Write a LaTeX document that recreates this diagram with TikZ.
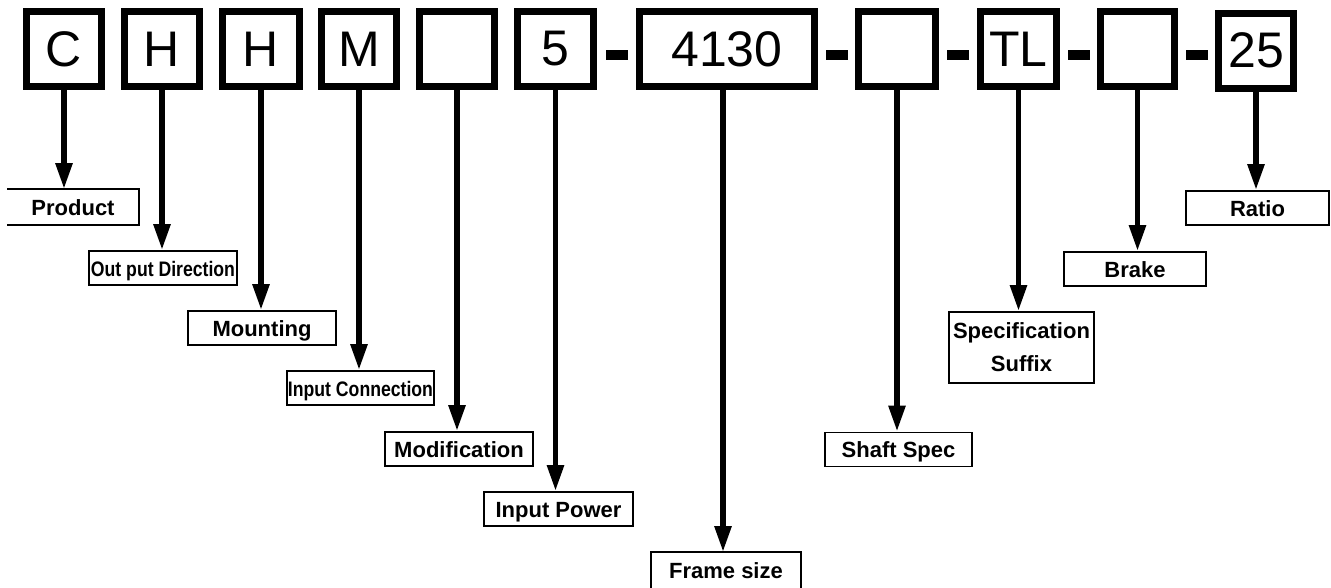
\documentclass[tikz,border=0pt]{standalone}
\usepackage{fontspec}
\setmainfont{Liberation Sans}
\newfontfamily\narrowfont{Liberation Sans}[FakeStretch=0.84]
\usetikzlibrary{arrows.meta}
\begin{document}
\begin{tikzpicture}[x=1pt,y=-1pt,
 codebox/.style={draw, line width=7pt, minimum width=75pt, minimum height=75pt, inner sep=0pt, font=\fontsize{50}{50}\selectfont},
 dashbar/.style={fill=black, minimum width=22pt, minimum height=10pt, inner sep=0pt},
 lab/.style={draw, line width=1.8pt, inner sep=0pt, font=\bfseries\fontsize{22}{33}\selectfont, align=center},
 onel/.style={lab, minimum height=34pt, text height=16pt, text depth=0pt},
 narrowl/.style={onel, font=\narrowfont\bfseries\fontsize{21}{25}\selectfont},
 arr/.style={line width=5.5pt, -{Triangle[width=16pt,length=26pt]}}]
\useasboundingbox (0,0) rectangle (1331,587);
% code boxes
\node[codebox] (c)  at (64,49) {C};
\node[codebox] (h1) at (162,49) {H};
\node[codebox, minimum width=77pt] (h2) at (261,49) {H};
\node[codebox] (m)  at (359,49) {M};
\node[codebox] (b1) at (457,49) {};
\node[codebox, minimum width=76pt] (p5) at (555.5,49) {5};
\node[codebox, minimum width=175pt] (fr) at (727,49) {4130};
\node[codebox, minimum width=77pt] (b2) at (897,49) {};
\node[codebox, minimum width=76pt] (tl) at (1018.5,49) {TL};
\node[codebox, minimum width=74pt] (b3) at (1137.5,49) {};
\node[codebox] (r)  at (1256,50.5) {25};
% dashes
\node[dashbar] (d1) at (617,55) {};
\node[dashbar] (d2) at (836.5,55) {};
\node[dashbar] (d3) at (958,55) {};
\node[dashbar] (d4) at (1078.5,55) {};
\node[dashbar] (d5) at (1197,55) {};
% labels
\node[onel, draw=none, minimum width=130pt] (lprod) at (73,207) {Product};
\draw[line width=1.8pt] (lprod.north west) -- (lprod.north east) -- (lprod.south east) -- (lprod.south west);
\node[narrowl, minimum width=148pt] (lout) at (163,268) {Out put Direction};
\node[onel, minimum width=148pt] (lmount) at (262,328) {Mounting};
\node[narrowl, minimum width=147pt] (lin) at (360.5,388) {Input Connection};
\node[onel, minimum width=148pt] (lmod) at (459,449) {Modification};
\node[onel, minimum width=149pt] (lpow) at (558.5,509) {Input Power};
\node[onel, draw=none, minimum width=148pt] (lframe) at (726,570) {Frame size};
\draw[line width=1.8pt] (lframe.south west) -- (lframe.north west) -- (lframe.north east) -- (lframe.south east);
\node[onel, minimum width=147pt] (lshaft) at (898.5,449.5) {Shaft Spec};
\node[lab, minimum width=145pt, minimum height=71pt] (lspec) at (1021.5,347.5) {Specification\\Suffix};
\node[onel, minimum width=142pt] (lbrake) at (1135,269) {Brake};
\node[onel, minimum width=143pt] (lratio) at (1257.5,208) {Ratio};
% arrows
\draw[arr] (c.south) -- (c.south |- lprod.north);
\draw[arr] (h1.south) -- (h1.south |- lout.north);
\draw[arr] (h2.south) -- (h2.south |- lmount.north);
\draw[arr] (m.south) -- (m.south |- lin.north);
\draw[arr] (b1.south) -- (b1.south |- lmod.north);
\draw[arr] (p5.south) -- (p5.south |- lpow.north);
\draw[arr] ([xshift=-4pt]fr.south) -- ([xshift=-4pt]fr.south |- lframe.north);
\draw[arr] (b2.south) -- (b2.south |- lshaft.north);
\draw[arr] (tl.south) -- (tl.south |- lspec.north);
\draw[arr] (b3.south) -- (b3.south |- lbrake.north);
\draw[arr] (r.south) -- (r.south |- lratio.north);
\end{tikzpicture}
\end{document}
